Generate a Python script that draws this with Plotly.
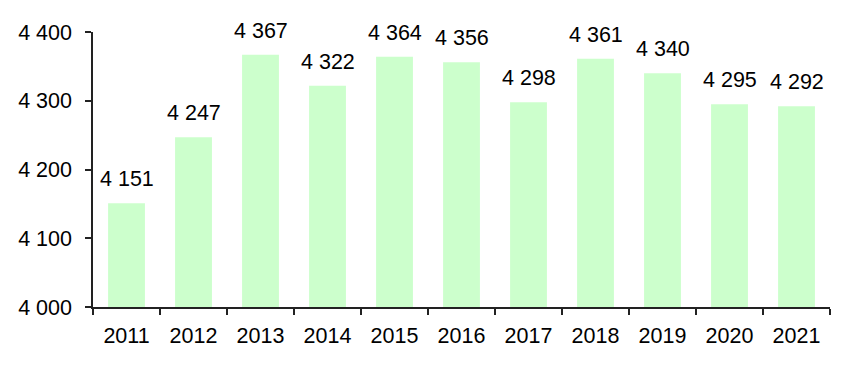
import plotly.graph_objects as go

years = ["2011", "2012", "2013", "2014", "2015", "2016", "2017", "2018", "2019", "2020", "2021"]
values = [4151, 4247, 4367, 4322, 4364, 4356, 4298, 4361, 4340, 4295, 4292]
y_ticks = [4000, 4100, 4200, 4300, 4400]

def fmt(v):
    return f"{v:,}".replace(",", " ")

FONT = "Liberation Sans, Arial, sans-serif"
AX = "#222222"
FS = 21.5

fig = go.Figure()
fig.add_trace(go.Bar(
    x=years, y=values,
    marker=dict(color="#ccffcc", line=dict(width=0)),
    hoverinfo="skip",
))

# value labels above bars (x = category serial index on the category axis)
for i, v in enumerate(values):
    fig.add_annotation(
        x=i, y=v, xref="x", yref="y", text=fmt(v), showarrow=False,
        yanchor="bottom", xanchor="center", yshift=10,
        font=dict(family=FONT, size=FS, color="#000000"),
    )

fig.update_layout(
    width=852, height=365,
    margin=dict(l=93, r=22, t=32, b=58),
    paper_bgcolor="white", plot_bgcolor="white",
    showlegend=False,
    bargap=0.45,
    font=dict(family=FONT, size=FS, color="#000000"),
    xaxis=dict(
        type="category", tickson="boundaries", automargin=False,
        range=[-0.5, len(years) - 0.5],
        showline=True, linecolor=AX, linewidth=1.5,
        ticks="outside", ticklen=6, tickcolor=AX, tickwidth=1.5,
        showgrid=False, zeroline=False,
        tickfont=dict(family=FONT, size=FS), tickangle=0,
        ticklabelstandoff=8,
    ),
    yaxis=dict(
        range=[4000, 4400], automargin=False,
        tickvals=y_ticks, ticktext=[fmt(v) for v in y_ticks],
        showline=True, linecolor=AX, linewidth=1.5,
        ticks="outside", ticklen=6, tickcolor=AX, tickwidth=1.5,
        showgrid=False, zeroline=False,
        tickfont=dict(family=FONT, size=FS),
        ticklabelstandoff=9,
    ),
    xaxis2=dict(
        overlaying="x", range=[-0.5, len(years) - 0.5], automargin=False,
        tickvals=[i - 0.5 for i in range(len(years) + 1)],
        ticks="inside", ticklen=6, tickcolor=AX, tickwidth=1.5,
        showticklabels=False, showgrid=False, zeroline=False, showline=False,
        side="bottom",
    ),
    yaxis2=dict(
        overlaying="y", range=[4000, 4400], tickvals=y_ticks, automargin=False,
        ticks="inside", ticklen=6, tickcolor=AX, tickwidth=1.5,
        showticklabels=False, showgrid=False, zeroline=False, showline=False,
        side="left",
    ),
)

fig.write_html("out.html", config={"displayModeBar": False},
               post_script="document.body.style.margin='0';")
